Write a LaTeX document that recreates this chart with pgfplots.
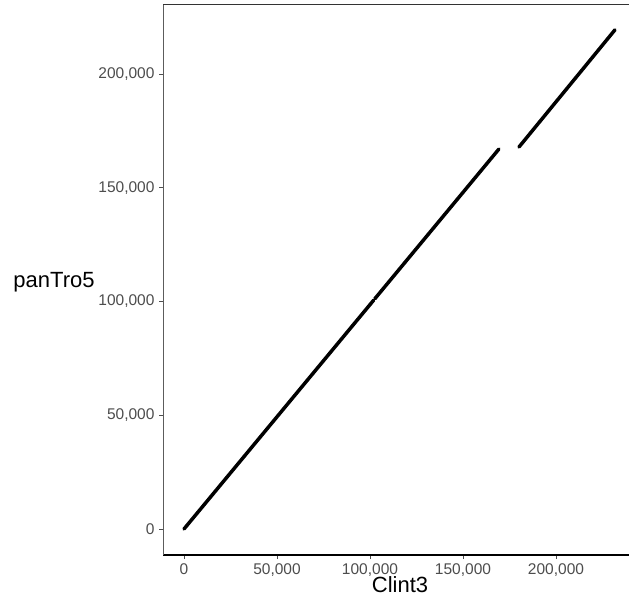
\documentclass[border=0pt]{standalone}
\usepackage{pgfplots}
\pgfplotsset{compat=1.18}
\usepackage{fontspec}
\setmainfont{Liberation Sans}
\definecolor{tickgrey}{HTML}{4D4D4D}
\definecolor{framegrey}{HTML}{333333}
\begin{document}
\begin{tikzpicture}[x=1pt,y=1pt]
\useasboundingbox (0,0) rectangle (629,600);
\begin{axis}[
  at={(163pt,45pt)}, anchor=south west,
  scale only axis, width=466pt, height=551pt,
  xmin=-11290, xmax=239250, ymin=-11430, ymax=230770,
  axis x line*=bottom, axis y line*=left,
  x axis line style={-, line width=1.1pt, black},
  y axis line style={-, line width=0.8pt, framegrey!80},
  xtick={0,50000,100000,150000,200000},
  ytick={0,50000,100000,150000,200000},
  scaled ticks=false,
  /pgf/number format/.cd, 1000 sep={,}, fixed, assume math mode=true,
  /pgfplots/.cd,
  tick style={tickgrey, line width=0.6pt},
  tick align=outside, major tick length=4pt,
  ticklabel style={font=\fontsize{15.5}{17}\selectfont, text=tickgrey},
  xticklabel style={yshift=-1pt},
  yticklabel style={xshift=-1pt},
  clip=false,
]
\addplot[black, line width=3.5pt, line cap=round] coordinates {(0,0) (102000,100600)};
\addplot[black, line width=3.5pt, line cap=round] coordinates {(102600,101200) (169300,167000)};
\addplot[black, line width=3.5pt, line cap=round] coordinates {(180100,167900) (231700,219400)};
\draw[framegrey, line width=0.8pt] (rel axis cs:0,1) -- (rel axis cs:1,1);
\end{axis}
\node[font=\fontsize{22}{26}\selectfont, anchor=center] at (400,15) {Clint3};
\node[font=\fontsize{22}{26}\selectfont, anchor=center] at (54,318) {panTro5};
\end{tikzpicture}
\end{document}
